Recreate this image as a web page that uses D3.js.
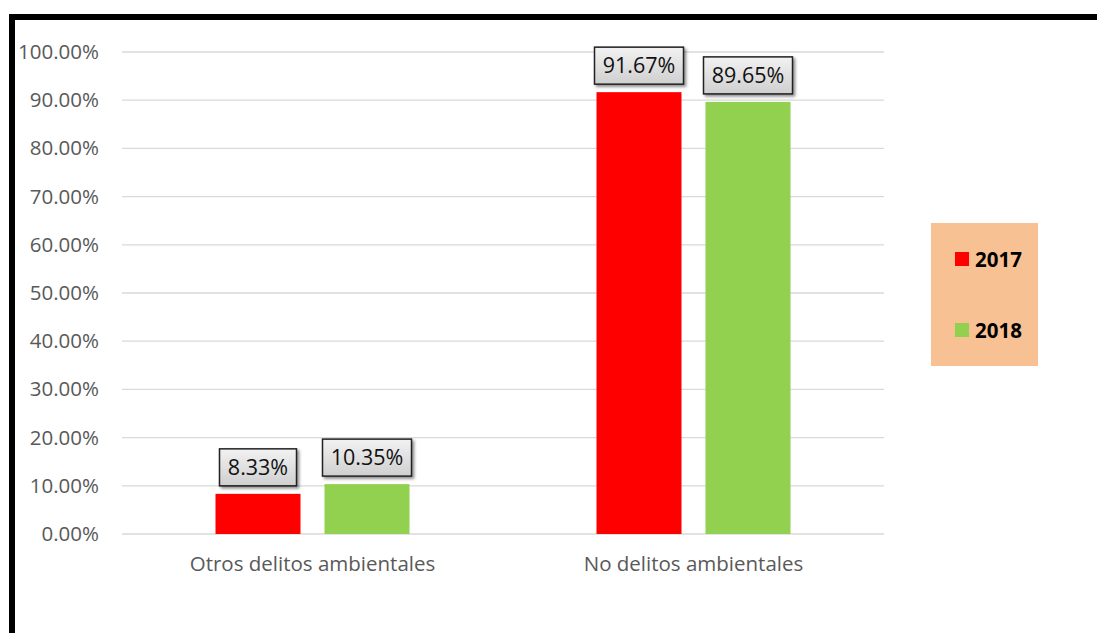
<!DOCTYPE html>
<html>
<head>
<meta charset="utf-8">
<script src="https://d3js.org/d3.v7.min.js"></script>
<style>
  body, html { margin: 0; padding: 0; background: #fff; }
  svg { display: block; }
  text { font-family: "Open Sans", "Liberation Sans", sans-serif; }
</style>
</head>
<body>
<svg width="1097" height="633"></svg>
<script>
  // chart data
  const categories = ["Otros delitos ambientales", "No delitos ambientales"];
  const years = ["2017", "2018"];
  const values2017 = [8.33, 91.67];
  const values2018 = [10.35, 89.65];
  const yTicks = [0, 10, 20, 30, 40, 50, 60, 70, 80, 90, 100];
  const colors = { "2017": "#FF0000", "2018": "#92D050" };

  const svg = d3.select("svg");

  // shadow + gradient for the data label boxes
  const defs = svg.append("defs");
  const grad = defs.append("linearGradient").attr("id", "lblGrad")
    .attr("x1", 0).attr("y1", 0).attr("x2", 0).attr("y2", 1);
  grad.append("stop").attr("offset", "0%").attr("stop-color", "#f2f2f2");
  grad.append("stop").attr("offset", "100%").attr("stop-color", "#cfcfcf");
  const f = defs.append("filter").attr("id", "shadow")
    .attr("x", "-20%").attr("y", "-20%").attr("width", "150%").attr("height", "150%");
  f.append("feDropShadow").attr("dx", 2).attr("dy", 2).attr("stdDeviation", 1.5)
    .attr("flood-color", "#000").attr("flood-opacity", 0.45);

  // outer frame (left + top thick black border)
  svg.append("rect").attr("x", 9).attr("y", 14).attr("width", 1097).attr("height", 6).attr("fill", "#000");
  svg.append("rect").attr("x", 9).attr("y", 14).attr("width", 6).attr("height", 640).attr("fill", "#000");

  const x0 = d3.scaleBand().domain(categories).range([122, 884]);
  const y = d3.scaleLinear().domain([0, 100]).range([534, 52]);

  // gridlines
  svg.append("g").selectAll("line").data(yTicks).join("line")
    .attr("x1", 122).attr("x2", 884)
    .attr("y1", d => y(d)).attr("y2", d => y(d))
    .attr("stroke", "#d9d9d9").attr("stroke-width", 1.3);

  // y axis labels
  const yAxis = d3.axisLeft(y).tickValues(yTicks).tickSize(0).tickPadding(0)
    .tickFormat(d => d.toFixed(2) + "%");
  const ya = svg.append("g").attr("transform", "translate(99,0)").call(yAxis);
  ya.select(".domain").remove();
  ya.selectAll("text").attr("fill", "#595959").style("font-size", "20.5px")
    .style("font-family", "'Open Sans', sans-serif");

  // x axis labels
  const xAxis = d3.axisBottom(x0).tickSize(0).tickPadding(0);
  const xa = svg.append("g").attr("transform", "translate(0,556)").call(xAxis);
  xa.select(".domain").remove();
  xa.selectAll("text").attr("fill", "#595959").style("font-size", "20.5px")
    .style("font-family", "'Open Sans', sans-serif");

  // bars
  const barW = 85, gap = 24;
  const rows = [];
  categories.forEach((c, i) => {
    rows.push({ cat: c, year: "2017", v: values2017[i], off: -(barW + gap / 2) });
    rows.push({ cat: c, year: "2018", v: values2018[i], off: gap / 2 });
  });

  svg.append("g").selectAll("rect").data(rows).join("rect")
    .attr("x", d => x0(d.cat) + x0.bandwidth() / 2 + d.off)
    .attr("y", d => y(d.v))
    .attr("width", barW)
    .attr("height", d => y(0) - y(d.v))
    .attr("fill", d => colors[d.year]);

  // data labels in boxes
  const lbl = svg.append("g").selectAll("g").data(rows).join("g")
    .attr("transform", d => `translate(${x0(d.cat) + x0.bandwidth() / 2 + d.off + barW / 2},${y(d.v) - 8})`);
  lbl.each(function(d) {
    const g = d3.select(this);
    const txt = d.v.toFixed(2) + "%";
    const w = txt.length > 5 ? 89 : 77;
    g.append("rect").attr("x", -w / 2).attr("y", -37).attr("width", w).attr("height", 37)
      .attr("fill", "url(#lblGrad)").attr("stroke", "#222").attr("stroke-width", 1.5)
      .attr("filter", "url(#shadow)");
    g.append("text").attr("x", 0).attr("y", -11).attr("text-anchor", "middle")
      .style("font-size", "21.5px").attr("fill", "#111").text(txt);
  });

  // legend
  const leg = svg.append("g");
  leg.append("rect").attr("x", 931).attr("y", 223).attr("width", 107).attr("height", 143).attr("fill", "#F8C193");
  const li = leg.selectAll("g").data(years).join("g")
    .attr("transform", (d, i) => `translate(955,${252 + i * 71})`);
  li.append("rect").attr("width", 14).attr("height", 14).attr("fill", d => colors[d]);
  li.append("text").attr("x", 20).attr("y", 15).style("font-size", "20.5px").style("font-weight", "bold")
    .attr("fill", "#000").text(d => d);
</script>
</body>
</html>
